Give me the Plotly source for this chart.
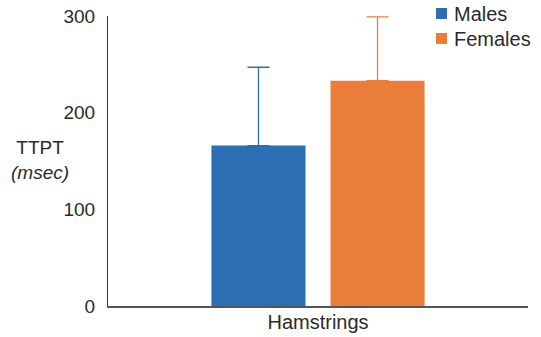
import plotly.graph_objects as go

# Time to peak torque (TTPT) by sex
categories = ["Hamstrings"]
males_mean = [166]
males_sd = [81]
females_mean = [233]
females_sd = [66]
series_names = ["Males", "Females"]

BLUE = "#2B6EB4"
ORANGE = "#EA7D3A"
FONT = "Liberation Sans, Arial, sans-serif"
TEXT = "#2a2a2a"

fig = go.Figure()
fig.add_trace(go.Bar(
    name=series_names[0], x=categories, y=males_mean, marker=dict(color=BLUE, line=dict(width=0)),
    error_y=dict(type="data", array=males_sd, arrayminus=[0] * len(males_sd), symmetric=False,
                 color=BLUE, thickness=1.3, width=11),
))
fig.add_trace(go.Bar(
    name=series_names[1], x=categories, y=females_mean, marker=dict(color=ORANGE, line=dict(width=0)),
    error_y=dict(type="data", array=females_sd, arrayminus=[0] * len(females_sd), symmetric=False,
                 color=ORANGE, thickness=1.3, width=11),
))

fig.update_layout(
    width=541, height=337,
    margin=dict(l=108, r=13, t=16, b=31, autoexpand=False),
    paper_bgcolor="white", plot_bgcolor="white",
    barmode="group", bargap=0.433, bargroupgap=0.21,
    font=dict(family=FONT, size=19, color=TEXT),
    showlegend=False,
)
fig.update_xaxes(
    range=[-0.5, 0.5], showline=True, linecolor="#555555", linewidth=1.5,
    showgrid=False, ticks="", ticklabelstandoff=-3, tickfont=dict(size=20, color=TEXT),
)
fig.update_yaxes(
    range=[0, 300], tickvals=[0, 100, 200, 300], showline=True, linecolor="#333333",
    linewidth=1, showgrid=False, zeroline=False, ticks="", ticklabelstandoff=8,
    tickfont=dict(size=19, color=TEXT),
)

# compact key in the top-right corner: colour square + label
key_x0, key_size = 436, 11
for i, (name, color) in enumerate(zip(series_names, [BLUE, ORANGE])):
    top = 8 + i * 25
    fig.add_shape(
        type="rect", xref="paper", yref="paper", line=dict(width=0), fillcolor=color,
        x0=(key_x0 - 108) / 420, x1=(key_x0 + key_size - 108) / 420,
        y0=(306 - top - key_size) / 290, y1=(306 - top) / 290,
    )
    fig.add_annotation(
        text=name, xref="paper", yref="paper",
        x=(key_x0 + key_size + 5 - 108) / 420, y=(306 - top - key_size / 2) / 290,
        xanchor="left", yanchor="middle", showarrow=False,
        font=dict(size=20, color=TEXT, family=FONT),
    )

fig.add_annotation(
    text="TTPT<br><i>(msec)</i>", xref="paper", yref="paper", x=-0.162, y=0.505,
    xanchor="center", yanchor="middle", showarrow=False, align="center",
    font=dict(size=19, color=TEXT, family=FONT),
)

fig.write_html("out.html")
